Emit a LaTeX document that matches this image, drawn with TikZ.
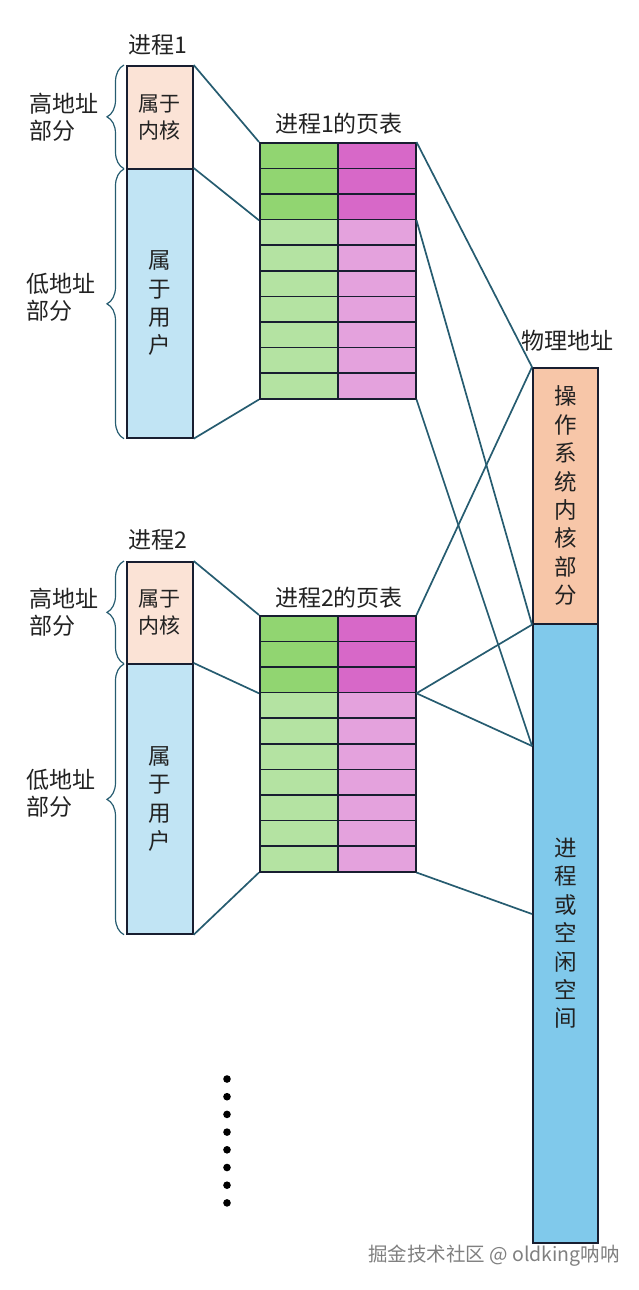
\documentclass[tikz,border=0pt]{standalone}
\usepackage{fontspec}
\setmainfont{Noto Sans CJK SC}
\usetikzlibrary{positioning,decorations.pathreplacing}

\begin{document}
\begin{tikzpicture}[x=1pt,y=-1pt,
  box/.style={draw=boxline, line width=1.7pt, inner sep=0pt, anchor=north west, align=center, text=txtcol},
  cell/.style={draw=boxline, line width=1.5pt, minimum width=78pt, minimum height=25.6pt, inner sep=0pt, anchor=north west},
  link/.style={draw=linkcol, line width=1.7pt},
  brc/.style={draw=linkcol, line width=1.2pt, decorate, decoration={brace, amplitude=17pt}},
  lbl/.style={font=\fontsize{23}{27}\selectfont, text=txtcol, inner sep=0pt},
  btxt/.style={font=\fontsize{21}{27}\selectfont},
  vtxt/.style={font=\fontsize{22.5}{28.4}\selectfont}]
\definecolor{boxline}{RGB}{24,30,48}
\definecolor{linkcol}{RGB}{38,92,112}
\definecolor{txtcol}{RGB}{34,34,34}
\definecolor{kproc}{RGB}{251,227,214}
\definecolor{uproc}{RGB}{193,228,244}
\definecolor{gdark}{RGB}{145,213,113}
\definecolor{glight}{RGB}{180,227,162}
\definecolor{mdark}{RGB}{215,104,200}
\definecolor{mlight}{RGB}{228,162,221}
\definecolor{pker}{RGB}{247,198,168}
\definecolor{pusr}{RGB}{128,201,235}

\useasboundingbox (0,0) rectangle (638,1290);

% ======================= PHYSICAL MEMORY =======================
\node[lbl] (phys) at (567,341) {物理地址};
\node[box, vtxt, fill=pker, minimum width=65pt, minimum height=256pt] (pk) at (532,367)
  {操\\作\\系\\统\\内\\核\\部\\分};
\node[box, vtxt, fill=pusr, minimum width=65pt, minimum height=619pt] (pu) at (532,623)
  {进\\程\\或\\空\\闲\\空\\间};
\coordinate (pm1) at (532,746);
\coordinate (pm2) at (532,914);

% ======================= PROCESS 1 =======================
\begin{scope}
  \node[lbl] (n1) at (158,45) {进程1};
  \node[box, btxt, fill=kproc, minimum width=66pt, minimum height=103pt] (k1) at (126,65) {属于\\内核};
  \node[box, vtxt, fill=uproc, minimum width=66pt, minimum height=269pt] (u1) at (126,168) {属\\于\\用\\户};

  % Klammern links
  \draw[brc] ([xshift=-2pt,yshift=1pt]k1.south west) -- ([xshift=-2pt]k1.north west);
  \draw[brc] ([xshift=-2pt]u1.south west) -- ([xshift=-2pt,yshift=-1pt]u1.north west);
  \node[lbl, align=left, anchor=west] (h1) at (29,117) {高地址\\部分};
  \node[lbl, align=left, anchor=west] (l1) at (26,297) {低地址\\部分};

  % Seitentabelle
  \node[lbl] (t1) at (339,124) {进程1的页表};
  \foreach \i in {1,...,10} {
    \ifnum\i<4 \def\lc{gdark}\def\rc{mdark}\else\def\lc{glight}\def\rc{mlight}\fi
    \node[cell, fill=\lc] (p1l\i) at (259,142+25.6*\i-25.6) {};
    \node[cell, fill=\rc] (p1r\i) at (337,142+25.6*\i-25.6) {};
  }

  \draw[link] (k1.north east) -- (p1l1.north west);
  \draw[link] (u1.north east) -- (p1l3.south west);
  \draw[link] (u1.south east) -- (p1l10.south west);
  \draw[link] (p1r1.north east) -- (pk.north west);
  \draw[link] (p1r3.south east) -- (pk.south west);
  \draw[link] (p1r10.south east) -- (pm1);
\end{scope}

% ======================= PROCESS 2 =======================
\begin{scope}
  \node[lbl] (n2) at (158,540) {进程2};
  \node[box, btxt, fill=kproc, minimum width=66pt, minimum height=102pt] (k2) at (126,561) {属于\\内核};
  \node[box, vtxt, fill=uproc, minimum width=66pt, minimum height=270pt] (u2) at (126,663) {属\\于\\用\\户};

  % Klammern links
  \draw[brc] ([xshift=-2pt,yshift=1pt]k2.south west) -- ([xshift=-2pt]k2.north west);
  \draw[brc] ([xshift=-2pt]u2.south west) -- ([xshift=-2pt,yshift=-1pt]u2.north west);
  \node[lbl, align=left, anchor=west] (h2) at (29,612) {高地址\\部分};
  \node[lbl, align=left, anchor=west] (l2) at (26,793) {低地址\\部分};

  % Seitentabelle
  \node[lbl] (t2) at (339,598) {进程2的页表};
  \foreach \i in {1,...,10} {
    \ifnum\i<4 \def\lc{gdark}\def\rc{mdark}\else\def\lc{glight}\def\rc{mlight}\fi
    \node[cell, fill=\lc] (p2l\i) at (259,615+25.6*\i-25.6) {};
    \node[cell, fill=\rc] (p2r\i) at (337,615+25.6*\i-25.6) {};
  }

  \draw[link] (k2.north east) -- (p2l1.north west);
  \draw[link] (u2.north east) -- (p2l3.south west);
  \draw[link] (u2.south east) -- (p2l10.south west);
  \draw[link] (p2r1.north east) -- (pk.north west);
  \draw[link] (p2r3.south east) -- (pk.south west);
  \draw[link] (p2r3.south east) -- (pm1);
  \draw[link] (p2r10.south east) -- (pm2);
\end{scope}

% Punkte
\foreach \j in {0,...,7}
  \fill (227,1079+17.7*\j) circle (3.8pt);

\node[font=\fontsize{19.5}{19.5}\selectfont, text=gray] (wm) at (494,1256) {掘金技术社区 @ oldking呐呐};

\end{tikzpicture}
\end{document}
